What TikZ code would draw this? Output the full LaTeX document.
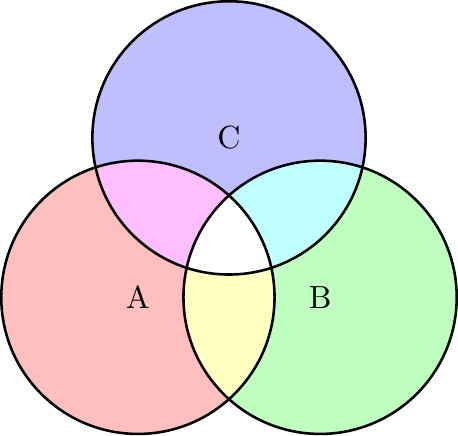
\documentclass[tikz,border=0pt]{standalone}
\definecolor{acfill}{RGB}{255,191,255}
\definecolor{bcfill}{RGB}{191,255,255}
\definecolor{abfill}{RGB}{255,255,191}
\definecolor{afill}{RGB}{255,191,191}
\definecolor{bfill}{RGB}{191,255,191}
\definecolor{cfill}{RGB}{191,191,255}
\begin{document}
\begin{tikzpicture}[outline/.style={draw=black, thick}]
\coordinate (A) at (0,0);
\coordinate (B) at (2,0);
\coordinate (C) at (1,1.75);
\def\rr{1.5cm}
\fill[afill] (A) circle[radius=\rr];
\fill[bfill] (B) circle[radius=\rr];
\fill[cfill] (C) circle[radius=\rr];
\begin{scope}
\clip (A) circle[radius=\rr];
\fill[abfill] (B) circle[radius=\rr];
\fill[acfill] (C) circle[radius=\rr];
\end{scope}
\begin{scope}
\clip (B) circle[radius=\rr];
\fill[bcfill] (C) circle[radius=\rr];
\end{scope}
\begin{scope}
\clip (A) circle[radius=\rr];
\clip (B) circle[radius=\rr];
\fill[white] (C) circle[radius=\rr];
\end{scope}
\draw[outline] (A) circle[radius=\rr];
\draw[outline] (B) circle[radius=\rr];
\draw[outline] (C) circle[radius=\rr];
\node (la) at (A) {A};
\node (lb) at (B) {B};
\node (lc) at (C) {C};
\end{tikzpicture}
\end{document}
